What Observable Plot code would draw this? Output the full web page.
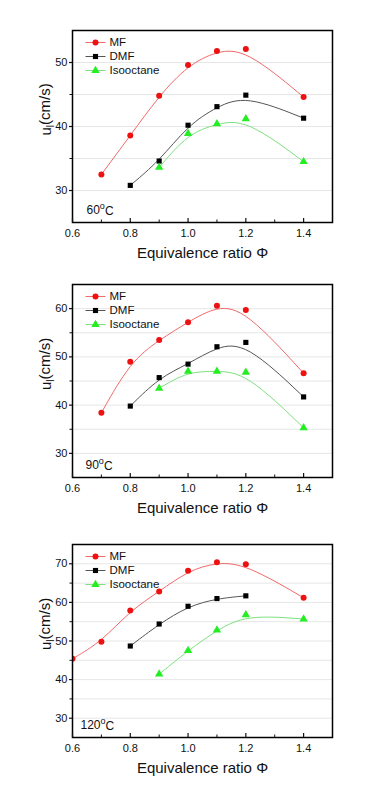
<!DOCTYPE html>
<html><head><meta charset="utf-8">
<script src="https://cdn.jsdelivr.net/npm/d3@7"></script>
<script src="https://cdn.jsdelivr.net/npm/@observablehq/plot@0.6"></script>
<style>
body{margin:0;background:#fff;font-family:"Liberation Sans",Arial,sans-serif;}
#chart{width:391px;}
#chart svg{display:block;}
</style></head><body><div id="chart"></div>
<script>
// ---- data ----
const phi = [0.6, 0.7, 0.8, 0.9, 1.0, 1.1, 1.2, 1.4];
const fuels = ["MF", "DMF", "Isooctane"];
const temps = ["60", "90", "120"];
// laminar burning velocity u_l (cm/s), aligned with phi (null = no point)
const mf60  = [null, 32.5, 38.6, 44.8, 49.6, 51.8, 52.1, 44.6];
const dmf60 = [null, null, 30.8, 34.6, 40.2, 43.1, 44.9, 41.3];
const iso60 = [null, null, null, 33.6, 38.9, 40.4, 41.2, 34.5];
const mf90  = [null, 38.4, 49.0, 53.5, 57.2, 60.6, 59.7, 46.6];
const dmf90 = [null, null, 39.8, 45.7, 48.5, 52.1, 53.0, 41.7];
const iso90 = [null, null, null, 43.5, 47.0, 47.0, 46.8, 35.3];
const mf120  = [45.4, 49.8, 57.9, 62.8, 68.2, 70.4, 69.9, 61.2];
const dmf120 = [null, null, 48.7, 54.4, 59.0, 61.0, 61.7, null];
const iso120 = [null, null, null, 41.4, 47.5, 52.8, 56.8, 55.7];
// axes
const xDomain = [0.6, 1.5];
const xTicks = [0.6, 0.8, 1.0, 1.2, 1.4];
const xMinor = [0.7, 0.9, 1.1, 1.3];
const yDomains = [[25, 55], [25, 65], [25, 75]];
const yTicks = [[30, 40, 50], [30, 40, 50, 60], [30, 40, 50, 60, 70]];
const yMinor = [[35, 45], [35, 45, 55], [35, 45, 55, 65]];
const xLabel = "Equivalence ratio Φ";
const yLabelKey = "ul(cm/s)";

// ---- styles ----
const lineColor = {MF: "#f06a6a", DMF: "#555555", Isooctane: "#7ee07e"};
const dotColor = {MF: "#ee1111", DMF: "#000000", Isooctane: "#22ee22"};
const symbolOf = {MF: "circle", DMF: "square", Isooctane: "triangle"};
const sizeOf = {MF: 3.0, DMF: 2.9, Isooctane: 3.1};
const series = [[mf60, dmf60, iso60], [mf90, dmf90, iso90], [mf120, dmf120, iso120]];
const layout = [
  {height: 260, marginTop: 30, marginBottom: 38, tempDx: 14},
  {height: 260, marginTop: 24, marginBottom: 43, tempDx: 13},
  {height: 260, marginTop: 24, marginBottom: 43, tempDx: 8}
];
const dash = {draw(ctx) { ctx.moveTo(-10, 0); ctx.lineTo(10, 0); }};

const chart = document.getElementById("chart");

temps.forEach((t, p) => {
  const rows = [];
  fuels.forEach((f, k) => {
    series[p][k].forEach((v, i) => { if (v != null) rows.push({fuel: f, phi: phi[i], u: v}); });
  });
  const grid = [...yTicks[p], ...yMinor[p]];
  const tempKey = t + "oC";
  const marks = [
    Plot.ruleY(grid, {stroke: "#e6e6e6", strokeWidth: 1}),
  ];
  fuels.forEach(f => {
    const d = rows.filter(r => r.fuel === f);
    marks.push(Plot.line(d, {x: "phi", y: "u", curve: "basis", stroke: lineColor[f], strokeWidth: 1}));
    marks.push(Plot.dot(d, {x: "phi", y: "u", symbol: symbolOf[f], fill: dotColor[f], r: sizeOf[f], clip: "frame"}));
  });
  // legend
  fuels.forEach((f, k) => {
    const dy = 12 + 14 * k;
    marks.push(Plot.dot([f], {frameAnchor: "top-left", dx: 23, dy, symbol: dash, stroke: lineColor[f], strokeWidth: 1}));
    marks.push(Plot.dot([f], {frameAnchor: "top-left", dx: 23, dy, symbol: symbolOf[f], fill: dotColor[f], r: sizeOf[f]}));
    marks.push(Plot.text([f], {frameAnchor: "top-left", dx: 37, dy, text: d => d, textAnchor: "start", lineAnchor: "middle", fontSize: 11.5, fill: "#111"}));
  });
  // temperature label
  marks.push(Plot.text([tempKey], {frameAnchor: "bottom-left", dx: layout[p].tempDx, dy: -9, text: d => d, textAnchor: "start", lineAnchor: "bottom", fontSize: 12, fill: "#111"}));
  // frame & axes
  marks.push(Plot.frame({stroke: "#000", strokeWidth: 1.5}));
  marks.push(Plot.axisX({ticks: xTicks, tickSize: 0, tickPadding: 7, tickFormat: d3.format(".1f"), label: null, fontSize: 11, fill: "#111"}));
  marks.push(Plot.axisX({ticks: xTicks, tickSize: -4, text: null, label: null, strokeWidth: 1.2}));
  marks.push(Plot.axisX({ticks: xMinor, tickSize: -2.5, text: null, label: null, strokeWidth: 1}));
  marks.push(Plot.axisY({ticks: yTicks[p], tickSize: 3, tickPadding: 2, label: null, fontSize: 11, fill: "#111", strokeWidth: 1.2}));
  marks.push(Plot.axisY({ticks: yMinor[p], tickSize: 2.5, text: null, label: null}));
  marks.push(Plot.text([xLabel], {frameAnchor: "bottom", dy: 25, text: d => d, lineAnchor: "top", fontSize: 15, fill: "#111"}));
  marks.push(Plot.text([yLabelKey], {frameAnchor: "left", dx: -26, dy: 9, rotate: -90, text: d => d, lineAnchor: "middle", fontSize: 15, fill: "#111"}));

  const svg = Plot.plot({
    width: 391, height: layout[p].height,
    marginLeft: 72, marginRight: 59, marginTop: layout[p].marginTop, marginBottom: layout[p].marginBottom,
    style: {fontFamily: "'Liberation Sans', Arial, sans-serif", fontSize: "11px", color: "#111", background: "#fff", overflow: "visible"},
    x: {domain: xDomain, label: null},
    y: {domain: yDomains[p], label: null},
    marks
  });
  // superscript / subscript post-processing
  d3.select(svg).selectAll("text").filter(function() { return this.textContent === tempKey; }).each(function() {
    const s = d3.select(this); s.text("");
    s.append("tspan").text(t);
    s.append("tspan").attr("dy", "-0.45em").attr("font-size", "9px").text("o");
    s.append("tspan").attr("dy", "0.45em").text("C");
  });
  d3.select(svg).selectAll("text").filter(function() { return this.textContent === yLabelKey; }).each(function() {
    const s = d3.select(this); s.text("");
    s.append("tspan").text("u");
    s.append("tspan").attr("dy", "0.3em").attr("font-size", "10px").text("l");
    s.append("tspan").attr("dy", "-0.3em").text("(cm/s)");
  });
  chart.appendChild(svg);
});
</script>
</body></html>
